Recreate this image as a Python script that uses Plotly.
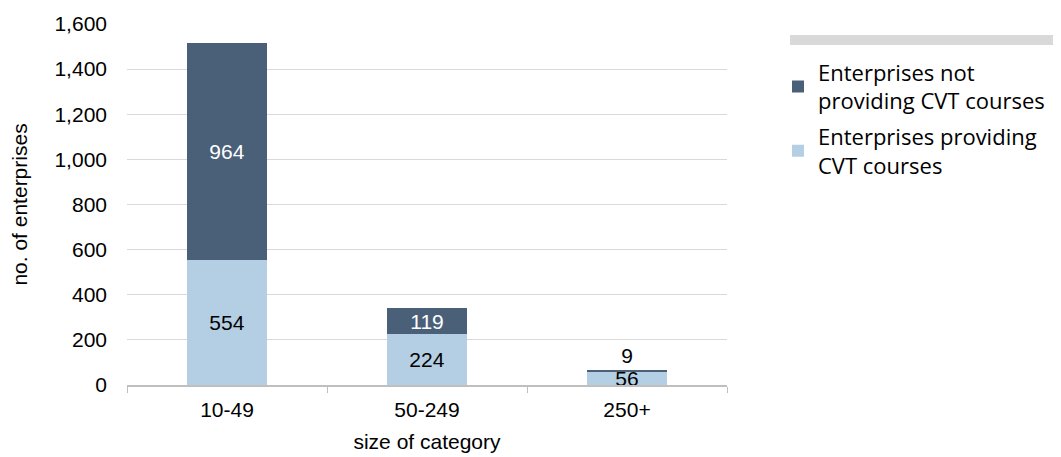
import plotly.graph_objects as go

categories = ["10-49", "50-249", "250+"]
providing = [554, 224, 56]
not_providing = [964, 119, 9]
y_ticks = [0, 200, 400, 600, 800, 1000, 1200, 1400, 1600]
y_tick_labels = ["0", "200", "400", "600", "800", "1,000", "1,200", "1,400", "1,600"]
name_providing = "Enterprises providing<br>CVT courses"
name_not = "Enterprises not<br>providing CVT courses"

axis_font = dict(family="Liberation Sans, Arial, sans-serif", size=21, color="#000000")

fig = go.Figure()
fig.add_trace(go.Bar(
    x=categories, y=providing, name=name_providing,
    marker=dict(color="#b4cfe3", line=dict(width=0)),
    text=[str(v) for v in providing], texttemplate="%{text}",
    textposition="inside", insidetextanchor="middle",
    textfont=dict(family="Liberation Sans, Arial, sans-serif", size=21, color="#000000"),
    constraintext="none", legendgroup="a", legendrank=2, cliponaxis=False,
))
fig.add_trace(go.Bar(
    x=categories, y=not_providing, name=name_not,
    marker=dict(color="#4a6078", line=dict(width=0)),
    text=[str(v) for v in not_providing], texttemplate="%{text}",
    textposition=["inside", "inside", "outside"], insidetextanchor="middle",
    insidetextfont=dict(family="Liberation Sans, Arial, sans-serif", size=21, color="#ffffff"),
    outsidetextfont=dict(family="Liberation Sans, Arial, sans-serif", size=21, color="#000000"),
    constraintext="none", legendgroup="b", legendrank=1, cliponaxis=False,
))

fig.update_layout(
    barmode="stack",
    bargap=0.6,
    width=1053, height=449,
    margin=dict(l=119, r=334, t=16, b=72, autoexpand=False),
    paper_bgcolor="#ffffff", plot_bgcolor="#ffffff",
    font=axis_font,
    showlegend=True,
    legend=dict(
        x=1.085, y=0.924, xanchor="left", yanchor="top",
        traceorder="grouped", tracegroupgap=4,
        font=dict(family="Open Sans, sans-serif", size=22, color="#000000"),
        itemsizing="constant", bgcolor="rgba(0,0,0,0)",
    ),
    xaxis=dict(
        showline=True, linecolor="#bfbfbf", linewidth=1.5,
        ticks="outside", tickson="boundaries", ticklen=6, tickcolor="#bfbfbf",
        ticklabelstandoff=5,
        showgrid=False, tickfont=axis_font,
        title=dict(text="size of category", font=axis_font, standoff=14),
        automargin=False,
    ),
    yaxis=dict(
        range=[0, 1600], tickvals=y_ticks, ticktext=y_tick_labels,
        showgrid=True, gridcolor="#d9d9d9", gridwidth=1,
        zeroline=False, showline=False, ticks="", ticklabelstandoff=19,
        tickfont=axis_font,
        title=dict(text="no. of enterprises", font=axis_font, standoff=21),
        automargin=False,
    ),
    shapes=[dict(
        type="rect", xref="paper", yref="paper",
        x0=(790 - 127) / 600, x1=(1055 - 127) / 600,
        y0=(385 - 45) / 361, y1=(385 - 35) / 361,
        fillcolor="#d9d9d9", line=dict(width=0), layer="above",
    )],
)

fig.write_html("out.html")
